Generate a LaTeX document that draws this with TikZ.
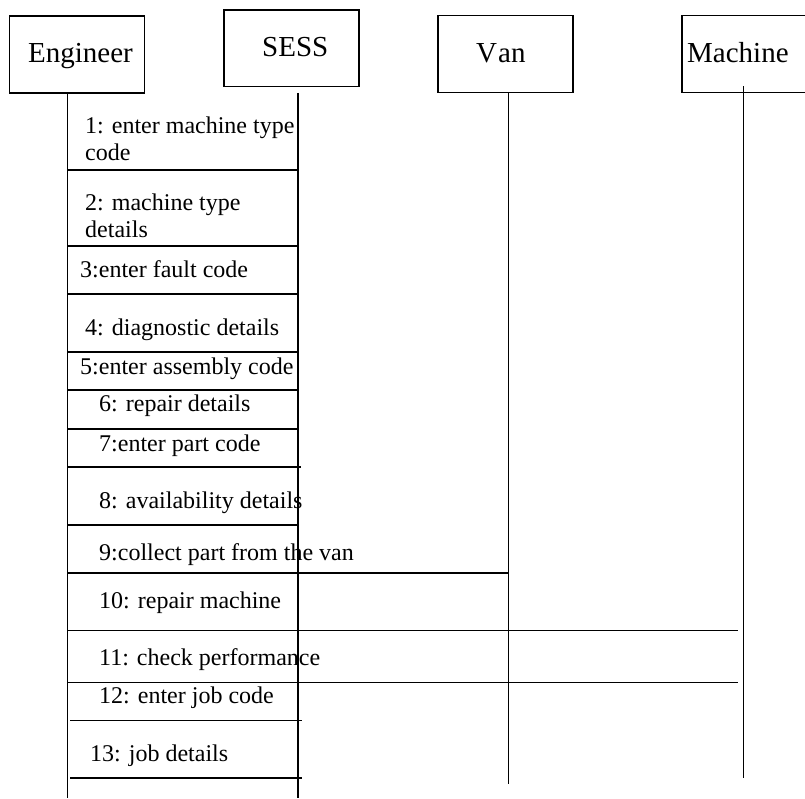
\documentclass[tikz,border=0pt]{standalone}
\usepackage{fontspec}
\setmainfont{Liberation Serif}
\begin{document}
\begin{tikzpicture}[x=1pt,y=-1pt,
  obj/.style={draw,line width=1.6pt,rectangle,inner sep=0pt},
  objname/.style={anchor=base west,inner sep=0pt,font=\fontsize{29}{33}\selectfont},
  lifeline/.style={line width=1.6pt},
  msg/.style={line width=1.6pt},
  msgtext/.style={anchor=base west,inner sep=0pt,align=left,font=\fontsize{24}{27}\selectfont}]
\useasboundingbox (0,0) rectangle (805,798);
\clip (0,0) rectangle (805,798);

% object boxes
\node[obj,minimum width=135pt,minimum height=77pt] (eng) at (77,54.2) {};
\node[obj,minimum width=135pt,minimum height=76.7pt] (sess) at (291.5,48.3) {};
\node[obj,minimum width=135pt,minimum height=76.7pt] (van) at (505.2,54) {};
\node[obj,minimum width=140pt,minimum height=76.7pt] (mach) at (751.7,54) {};

\node[objname] (engtxt) at (28,62.3) {Engineer};
\node[objname] (sesstxt) at (262,56) {SESS};
\node[objname] (vantxt) at (476,62) {V\kern1pt an};
\node[objname] (machtxt) at (687,62) {Machine};

% lifeline ends
\coordinate (engEnd) at (67.5,798);
\coordinate (sessEnd) at (297.7,798);
\coordinate (vanEnd) at (508.3,784.3);
\coordinate (machEnd) at (743.3,778.3);
\coordinate (machTop) at (743.3,86);

\draw[lifeline] (engEnd |- eng.south) -- (engEnd);
\draw[lifeline] (sessEnd |- sess.south) ++(0,5.5) -- (sessEnd);
\draw[lifeline] (vanEnd |- van.south) -- (vanEnd);
\draw[lifeline] (machTop) -- (machEnd);

% message rows
\coordinate (y1) at (0,169.7);
\coordinate (y2) at (0,246);
\coordinate (y3) at (0,294);
\coordinate (y4) at (0,352);
\coordinate (y5) at (0,390);
\coordinate (y6) at (0,428.7);
\coordinate (y7) at (0,467);
\coordinate (y8) at (0,525);
\coordinate (y9) at (0,572.7);
\coordinate (y10) at (0,630.3);
\coordinate (y11) at (0,682.3);
\coordinate (y12) at (0,720.3);
\coordinate (y13) at (0,777.7);

\draw[msg] (engEnd |- y1) -- (sessEnd |- y1);
\draw[msg] (engEnd |- y2) -- (sessEnd |- y2);
\draw[msg] (engEnd |- y3) -- (sessEnd |- y3);
\draw[msg] (engEnd |- y4) -- (sessEnd |- y4);
\draw[msg] (engEnd |- y5) -- (sessEnd |- y5);
\draw[msg] (engEnd |- y6) -- (sessEnd |- y6);
\draw[msg] (engEnd |- y7) -- ([xshift=3pt]sessEnd |- y7);
\draw[msg] (engEnd |- y8) -- ([xshift=1.5pt]sessEnd |- y8);
\draw[msg] (engEnd |- y9) -- (vanEnd |- y9);
\draw[msg] (engEnd |- y10) -- ([xshift=-5pt]machEnd |- y10);
\draw[msg] (engEnd |- y11) -- ([xshift=-5pt]machEnd |- y11);
\draw[msg] ([xshift=2.5pt]engEnd |- y12) -- ([xshift=4pt]sessEnd |- y12);
\draw[msg] ([xshift=2.5pt]engEnd |- y13) -- ([xshift=4pt]sessEnd |- y13);

% message labels (two-line labels are placed by the baseline of their last line)
\node[msgtext] (t1) at (85,160.5) {1: enter machine type\\code};
\node[msgtext] (t2) at (85,237) {2: machine type\\details};
\node[msgtext] (t3) at (80,277.7) {3:enter fault code};
\node[msgtext] (t4) at (85,335) {4: diagnostic details};
\node[msgtext] (t5) at (80,374) {5:enter assembly code};
\node[msgtext] (t6) at (99,411.7) {6: repair details};
\node[msgtext] (t7) at (99,451) {7:enter part code};
\node[msgtext] (t8) at (99,508) {8: availability details};
\node[msgtext] (t9) at (99,560) {9:collect part from the van};
\node[msgtext] (t10) at (99,608) {10: repair machine};
\node[msgtext] (t11) at (99,665) {11: check performance};
\node[msgtext] (t12) at (99,703) {12: enter job code};
\node[msgtext] (t13) at (90,761) {13: job details};
\end{tikzpicture}
\end{document}
